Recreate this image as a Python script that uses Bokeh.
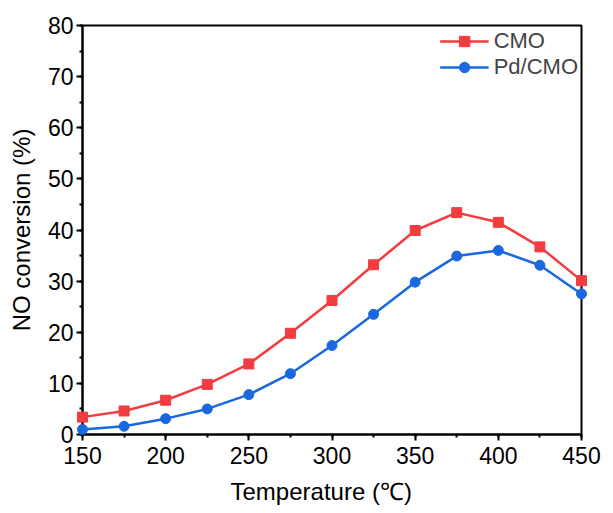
from bokeh.plotting import figure
from bokeh.models import Range1d, SingleIntervalTicker, Legend, LegendItem, Title
from bokeh.embed import file_html
from bokeh.resources import INLINE

temperature = [150, 175, 200, 225, 250, 275, 300, 325, 350, 375, 400, 425, 450]
cmo = [3.4, 4.6, 6.7, 9.8, 13.8, 19.8, 26.2, 33.2, 39.9, 43.4, 41.5, 36.7, 30.1]
pd_cmo = [1.0, 1.6, 3.1, 5.0, 7.8, 11.9, 17.4, 23.5, 29.8, 34.9, 36.0, 33.1, 27.5]

RED = "#F23C3F"
BLUE = "#1A68E0"
FONT = "Liberation Sans"

p = figure(width=613, height=513, output_backend="svg", toolbar_location=None,
           x_range=Range1d(150, 450), y_range=Range1d(0, 80),
           min_border_left=82, min_border_right=32, min_border_top=25, min_border_bottom=79)
p.background_fill_color = "white"
p.border_fill_color = "white"
p.grid.visible = False
p.outline_line_color = "black"
p.outline_line_width = 2

r1l = p.line(temperature, cmo, line_color=RED, line_width=2.5, level="overlay")
r1m = p.scatter(temperature, cmo, marker="square", size=10, fill_color=RED, line_color=RED, level="overlay")
r2l = p.line(temperature, pd_cmo, line_color=BLUE, line_width=2.5, level="overlay")
r2m = p.scatter(temperature, pd_cmo, marker="circle", size=10, fill_color=BLUE, line_color=BLUE, level="overlay")

p.xaxis.ticker = SingleIntervalTicker(interval=50, num_minor_ticks=2)
p.yaxis.ticker = SingleIntervalTicker(interval=10, num_minor_ticks=2)

for ax in (p.xaxis[0], p.yaxis[0]):
    ax.axis_line_width = 2
    ax.major_tick_line_width = 2
    ax.minor_tick_line_width = 2
    ax.major_tick_out = 6
    ax.major_tick_in = 0
    ax.minor_tick_out = 3
    ax.minor_tick_in = 0
    ax.major_label_text_font = FONT
    ax.major_label_text_font_size = "23px"
    ax.major_label_text_color = "black"
    ax.axis_label_text_font = FONT
    ax.axis_label_text_font_size = "24px"
    ax.axis_label_text_font_style = "normal"
    ax.axis_label_text_color = "black"

p.yaxis.axis_label = "NO conversion (%)"
p.xaxis.major_label_standoff = 6
p.yaxis.major_label_standoff = 3
p.yaxis.axis_label_standoff = 10

xtitle = Title(text="Temperature (℃)", align="left", offset=148, standoff=18,
               text_font=FONT, text_font_size="24px", text_font_style="normal",
               text_color="black")
p.add_layout(xtitle, "below")

legend = Legend(items=[LegendItem(label="CMO", renderers=[r1l, r1m]),
                       LegendItem(label="Pd/CMO", renderers=[r2l, r2m])],
                location="top_right")
legend.border_line_alpha = 0
legend.background_fill_alpha = 0
legend.label_text_font = FONT
legend.label_text_font_size = "22px"
legend.glyph_width = 49
legend.glyph_height = 26
legend.spacing = 0
legend.padding = 3
legend.margin = 0
legend.label_standoff = 5
p.add_layout(legend)

open("out.html", "w").write(file_html(p, INLINE))
